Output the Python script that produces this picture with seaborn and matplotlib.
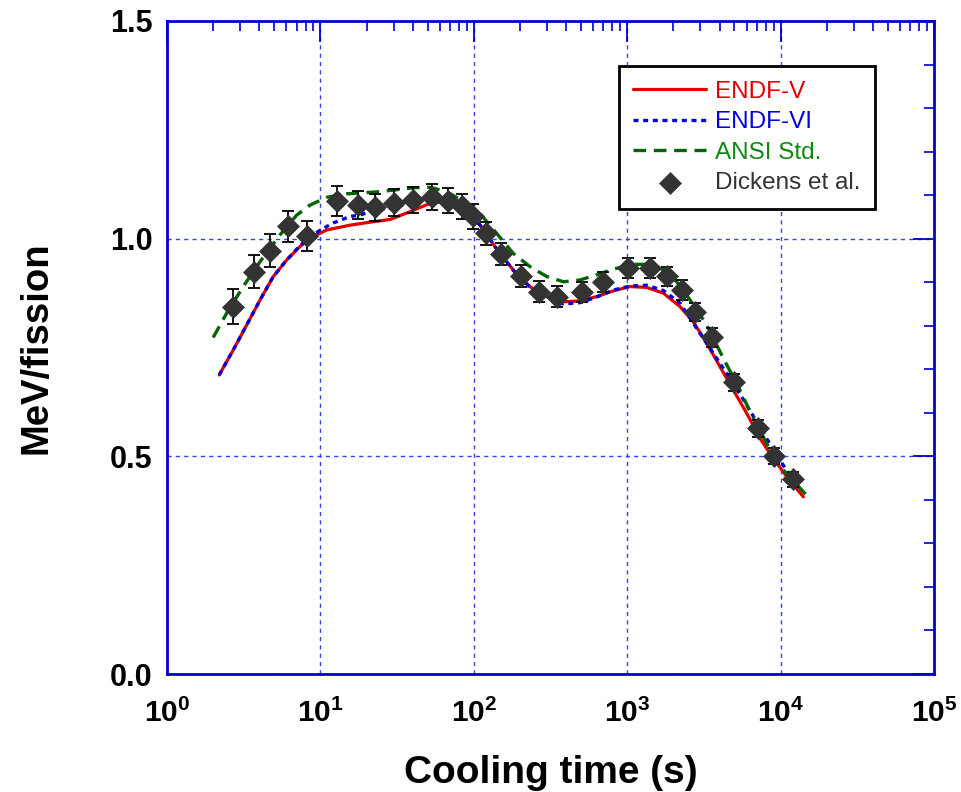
import numpy as np
import pandas as pd
import matplotlib
matplotlib.use("Agg")
import matplotlib.pyplot as plt
import seaborn as sns
from matplotlib.ticker import FixedLocator, MultipleLocator, LogLocator, FuncFormatter, NullFormatter

# ---------------- data ----------------
endf5_t = [2.19, 2.70, 3.31, 4.04, 4.93, 6.03, 7.36, 9.0, 11.0, 15.6, 22.1, 28.4, 38.4,
           51.8, 60.3, 73.5, 89.9, 110, 141, 181, 232, 299, 384, 492, 632, 811, 1042,
           1340, 1718, 2208, 2698, 3296, 4027, 4920, 6012, 7345, 8954, 10965, 14060]
endf5_v = [0.687, 0.744, 0.802, 0.859, 0.913, 0.951, 0.982, 1.005, 1.020, 1.031, 1.039,
           1.044, 1.062, 1.081, 1.084, 1.077, 1.062, 1.031, 0.976, 0.928, 0.890, 0.867,
           0.855, 0.857, 0.867, 0.880, 0.890, 0.888, 0.875, 0.844, 0.809, 0.760, 0.706,
           0.652, 0.599, 0.541, 0.496, 0.453, 0.407]

endf6_t = [2.19, 2.70, 3.31, 4.04, 4.93, 6.03, 7.36, 9.0, 11.0, 12.1, 15.6, 18.1, 21.0,
           28.4, 38.4, 49.3, 60.3, 73.5, 89.9, 110, 141, 181, 232, 299, 384, 492, 632,
           811, 1042, 1340, 1718, 2208, 2838, 3639, 4677, 6012, 7709, 9908, 12100]
endf6_v = [0.687, 0.744, 0.802, 0.859, 0.913, 0.951, 0.984, 1.010, 1.028, 1.036, 1.051,
           1.054, 1.062, 1.070, 1.081, 1.088, 1.087, 1.077, 1.062, 1.031, 0.976, 0.927,
           0.888, 0.864, 0.850, 0.853, 0.866, 0.882, 0.891, 0.893, 0.881, 0.852, 0.794,
           0.737, 0.679, 0.618, 0.553, 0.492, 0.442]

ansi_t = [2.00, 2.45, 3.14, 4.04, 5.46, 7.0, 8.55, 11.0, 14.8, 24.5, 40.4, 51.8, 66.5,
          89.9, 112, 141, 181, 232, 299, 384, 492, 632, 811, 1096, 1409, 1820, 2239,
          2698, 3296, 4236, 5433, 6310, 8531, 10400, 15170]
ansi_v = [0.773, 0.829, 0.890, 0.947, 1.009, 1.054, 1.077, 1.095, 1.103, 1.108, 1.117,
          1.118, 1.108, 1.081, 1.054, 1.012, 0.966, 0.936, 0.913, 0.901, 0.905, 0.917,
          0.930, 0.941, 0.941, 0.925, 0.890, 0.848, 0.802, 0.725, 0.652, 0.603, 0.515,
          0.469, 0.406]

dick_t = [2.68, 3.71, 4.67, 6.18, 8.18, 12.8, 17.7, 22.7, 30.3, 40.4, 53.1, 67.6, 83.4,
          99.3, 121, 150, 202, 266, 350, 505, 698, 1007, 1410, 1809, 2265, 2767, 3554,
          4990, 7090, 9100, 12100]
dick_v = [0.844, 0.924, 0.972, 1.028, 1.006, 1.087, 1.077, 1.072, 1.083, 1.089, 1.095,
          1.087, 1.074, 1.051, 1.012, 0.965, 0.915, 0.878, 0.867, 0.878, 0.901, 0.933,
          0.933, 0.914, 0.882, 0.832, 0.773, 0.670, 0.564, 0.501, 0.447]
dick_err = [0.041, 0.038, 0.038, 0.036, 0.034, 0.034, 0.032, 0.031, 0.030, 0.030, 0.030,
            0.029, 0.028, 0.028, 0.027, 0.026, 0.025, 0.024, 0.024, 0.023, 0.023, 0.023,
            0.023, 0.022, 0.022, 0.021, 0.021, 0.020, 0.019, 0.019, 0.018]

series_names = ["ENDF-V", "ENDF-VI", "ANSI Std.", "Dickens et al."]
series_colors = ["#e00000", "#0000dd", "#006400", "#333333"]
text_colors = ["#e00000", "#0000dd", "#118811", "#333333"]
x_ticks = [1, 10, 100, 1000, 10000, 100000]
y_ticks = [0.0, 0.5, 1.0, 1.5]

# ---------------- style ----------------
sns.set_theme(style="white")
plt.rcParams['font.family'] = ['Liberation Sans', 'DejaVu Sans']
plt.rcParams['font.weight'] = 'bold'
plt.rcParams['mathtext.fontset'] = 'custom'
plt.rcParams['mathtext.rm'] = 'Liberation Sans:bold'
plt.rcParams['mathtext.bf'] = 'Liberation Sans:bold'
plt.rcParams['mathtext.it'] = 'Liberation Sans:bold'

W, H = 961, 792
fig = plt.figure(figsize=(W / 100, H / 100), dpi=100)
ax = fig.add_axes([167 / W, 1 - 674 / H, (934 - 167) / W, (674 - 21) / H])
ax.set_facecolor("white")

spine_c = "#0000cc"
grid_c = "#3344ee"

ax.set_xscale("log")
ax.set_xlim(1, 1e5)
ax.set_ylim(0, 1.5)
ax.set_axisbelow(True)
ax.grid(True, which="major", color=grid_c, linestyle=(0, (3, 3)), linewidth=1.0)

df5 = pd.DataFrame({"t": endf5_t, "v": endf5_v})
df6 = pd.DataFrame({"t": endf6_t, "v": endf6_v})
dfa = pd.DataFrame({"t": ansi_t, "v": ansi_v})
dfd = pd.DataFrame({"t": dick_t, "v": dick_v, "e": dick_err})

sns.lineplot(data=df5, x="t", y="v", ax=ax, color=series_colors[0], linewidth=2.3,
             estimator=None, label=series_names[0], zorder=3)
sns.lineplot(data=df6, x="t", y="v", ax=ax, color=series_colors[1], linewidth=2.4,
             linestyle=(0, (1.5, 1.4)), estimator=None, label=series_names[1], zorder=3)
sns.lineplot(data=dfa, x="t", y="v", ax=ax, color=series_colors[2], linewidth=2.4,
             linestyle=(0, (3.8, 2.3)), estimator=None, label=series_names[2], zorder=3)
ax.errorbar(dfd["t"], dfd["v"], yerr=dfd["e"], fmt="none", ecolor="black",
            elinewidth=1.3, capsize=4.5, capthick=1.3, zorder=4)
sns.scatterplot(data=dfd, x="t", y="v", ax=ax, marker="D", s=125, color=series_colors[3],
                edgecolor=series_colors[3], linewidth=0.5, label=series_names[3], zorder=5)

# ticks
ax.xaxis.set_major_locator(FixedLocator(x_ticks))
ax.xaxis.set_minor_locator(LogLocator(base=10, subs=np.arange(2, 10), numticks=20))
ax.xaxis.set_minor_formatter(NullFormatter())
ax.xaxis.set_major_formatter(FuncFormatter(lambda v, p: r"$\mathbf{10^{%d}}$" % round(np.log10(v))))
ax.yaxis.set_major_locator(FixedLocator(y_ticks))
ax.yaxis.set_minor_locator(MultipleLocator(0.1))
ax.yaxis.set_major_formatter(FuncFormatter(lambda v, p: "%.1f" % v))

ax.tick_params(which="both", direction="in", top=True, right=True, color=spine_c,
               labelcolor="black")
ax.tick_params(which="major", length=15, width=1.3)
ax.tick_params(which="minor", length=7, width=1.2)
ax.tick_params(axis="x", which="major", labelsize=21.5, pad=18)
ax.tick_params(axis="y", which="major", labelsize=22, pad=10.5)

for s in ax.spines.values():
    s.set_color(spine_c)
    s.set_linewidth(2)
    s.set_visible(True)

ax.set_xlabel("Cooling time (s)", fontsize=28, fontweight="bold", labelpad=19, color="black")
ax.set_ylabel("MeV/fission", fontsize=27.5, fontweight="bold", labelpad=40, color="black")

leg = ax.legend(loc="upper right", bbox_to_anchor=(0.923, 0.931), frameon=True,
                fancybox=False, edgecolor="black", framealpha=1,
                prop={"family": "Liberation Sans", "weight": "normal", "size": 17.5},
                handlelength=3.0, handletextpad=0.35, labelspacing=0.35,
                borderpad=0.6, borderaxespad=0)
leg.get_frame().set_linewidth(2)
for txt, c in zip(leg.get_texts(), text_colors):
    txt.set_color(c)

fig.savefig("out.png", dpi=100)
